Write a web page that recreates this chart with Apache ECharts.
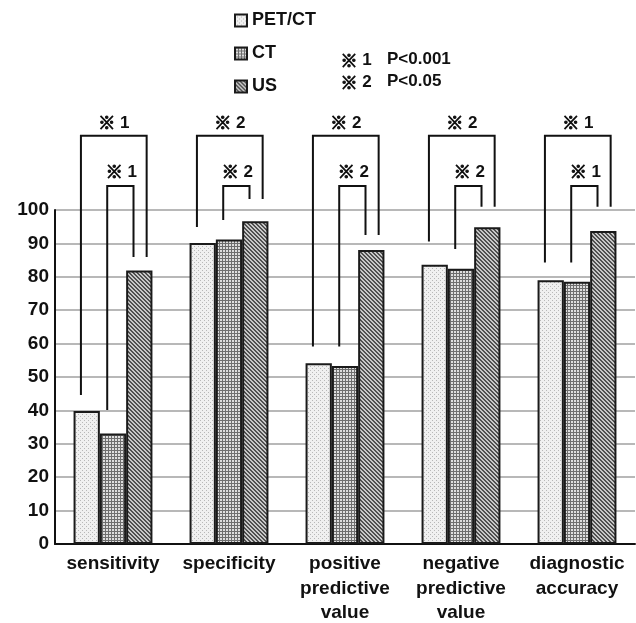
<!DOCTYPE html>
<html><head><meta charset="utf-8">
<script src="https://cdn.jsdelivr.net/npm/echarts@6/dist/echarts.min.js"></script>
<style>html,body{margin:0;padding:0;background:#fff}#c{width:636px;height:623px}</style>
</head><body><div id="c"></div>
<script>
// ---- data ----
const categories = ['sensitivity', 'specificity', 'positive\npredictive\nvalue', 'negative\npredictive\nvalue', 'diagnostic\naccuracy'];
const seriesNames = ['PET/CT', 'CT', 'US'];
const petctValues = [39.8, 90.1, 54.1, 83.6, 79.0];
const ctValues = [33.1, 91.2, 53.3, 82.4, 78.5];
const usValues = [81.9, 96.6, 88.0, 94.8, 93.7];
const yTicks = [0, 10, 20, 30, 40, 50, 60, 70, 80, 90, 100];
// significance brackets (value units)
const outerLabels = ['1', '2', '2', '2', '1'];
const innerLabels = ['1', '2', '2', '2', '1'];
const outerTop = [122.2, 122.2, 122.2, 122.2, 122.2];
const innerTop = [107.2, 107.2, 107.2, 107.2, 107.2];
const outerLeftEnd = [44.6, 94.9, 59.1, 90.6, 84.3];
const innerLeftEnd = [40.1, 97.0, 59.1, 88.3, 84.3];
const rightEnd = [85.9, 103.3, 92.5, 101.0, 101.0];
const noteLines = [['1', 'P<0.001'], ['2', 'P<0.05']];

// ---- patterns ----
function makePattern(size, bg, fg, test) {
  const cv = document.createElement('canvas');
  cv.width = size; cv.height = size;
  const ctx = cv.getContext('2d');
  ctx.fillStyle = bg; ctx.fillRect(0, 0, size, size);
  ctx.fillStyle = fg;
  for (let x = 0; x < size; x++) for (let y = 0; y < size; y++) if (test(x, y)) ctx.fillRect(x, y, 1, 1);
  return { image: cv, repeat: 'repeat' };
}
const patPET = makePattern(4, '#f0f0f0', '#b8b8b8', (x, y) => (x === 0 && y === 0) || (x === 2 && y === 2));
const patCT = makePattern(3, '#dedede', '#6e6e6e', (x, y) => x === 0 || y === 0);
const patUS = makePattern(4, '#c8c8c8', '#505050', (x, y) => ((x - y + 8) % 4) < 2);

const FONT = '"Liberation Sans", Arial, sans-serif';
const CJK = '"Noto Sans CJK JP", "DejaVu Sans", sans-serif';
const GAP = 0.32;

const richMark = {
  m: { fontFamily: CJK, fontWeight: 'bold', fontSize: 17, fill: '#111', stroke: '#111', lineWidth: 1.1 },
  n: { fontFamily: FONT, fontWeight: 'bold', fontSize: 17, fill: '#111' }
};

const chart = echarts.init(document.getElementById('c'), null, { renderer: 'canvas' });

const barStyle = p => ({ color: p, borderColor: '#1a1a1a', borderWidth: 2 });

const bracketData = categories.map((c, i) => [i, outerTop[i], innerTop[i], outerLeftEnd[i], innerLeftEnd[i], rightEnd[i]]);

const graphics = [];
noteLines.forEach((ln, k) => {
  graphics.push({ type: 'text', left: 340, top: 51 + k * 22, style: { text: '{m|※}{n| ' + ln[0] + '}', rich: richMark } });
  graphics.push({ type: 'text', left: 387, top: 51 + k * 22, style: { text: ln[1], font: 'bold 17px ' + FONT, fill: '#111' } });
});

chart.setOption({
  animation: false,
  backgroundColor: '#fff',
  grid: { left: 55, right: 1, top: 210, bottom: 79, containLabel: false, outerBoundsMode: 'none' },
  legend: {
    data: seriesNames, orient: 'vertical', left: 229, top: 6,
    itemWidth: 12, itemHeight: 12, itemGap: 14, icon: 'rect',
    textStyle: { fontFamily: FONT, fontWeight: 'bold', fontSize: 18, color: '#111', lineHeight: 19 }
  },
  graphic: graphics,
  xAxis: {
    type: 'category', data: categories,
    axisTick: { show: false },
    axisLine: { lineStyle: { color: '#111', width: 2 } },
    axisLabel: { interval: 0, margin: 8, fontFamily: FONT, fontWeight: 'bold', fontSize: 19, lineHeight: 24.5, color: '#111' }
  },
  yAxis: {
    type: 'value', min: 0, max: 100, interval: 10,
    axisLine: { show: true, lineStyle: { color: '#111', width: 2 } },
    axisTick: { show: false },
    axisLabel: { margin: 6, fontFamily: FONT, fontWeight: 'bold', fontSize: 19, color: '#111',
      formatter: v => (yTicks.indexOf(v) >= 0 ? String(v) : '') },
    splitLine: { lineStyle: { color: '#a0a0a0', width: 1.5 } }
  },
  series: [
    { name: seriesNames[0], type: 'bar', data: petctValues, barGap: 0, barCategoryGap: (GAP * 100) + '%', itemStyle: barStyle(patPET) },
    { name: seriesNames[1], type: 'bar', data: ctValues, barGap: 0, barCategoryGap: (GAP * 100) + '%', itemStyle: barStyle(patCT) },
    { name: seriesNames[2], type: 'bar', data: usValues, barGap: 0, barCategoryGap: (GAP * 100) + '%', itemStyle: barStyle(patUS) },
    {
      type: 'custom', clip: false, silent: true, z: 10,
      encode: { x: 0, y: 1 },
      data: bracketData,
      renderItem: function (params, api) {
        const i = params.dataIndex;
        const cat = api.value(0);
        const c = api.coord([cat, 0])[0];
        const band = api.size([1, 0])[0];
        const bw = band * (1 - GAP) / 3;
        const y = v => api.coord([cat, v])[1];
        const xOL = c - bw - 0.22 * bw;
        const xIL = c - 0.22 * bw;
        const xIR = c + bw - 0.22 * bw;
        const xOR = c + bw + 0.28 * bw;
        const yOT = y(api.value(1)), yIT = y(api.value(2));
        const ls = { stroke: '#111', lineWidth: 2, fill: null };
        return {
          type: 'group', children: [
            { type: 'polyline', shape: { points: [[xOL, y(api.value(3))], [xOL, yOT], [xOR, yOT], [xOR, y(api.value(5))]] }, style: ls },
            { type: 'polyline', shape: { points: [[xIL, y(api.value(4))], [xIL, yIT], [xIR, yIT], [xIR, y(api.value(5))]] }, style: ls },
            { type: 'text', style: { text: '{m|※}{n| ' + outerLabels[i] + '}', rich: richMark, x: (xOL + xOR) / 2, y: yOT - 13, align: 'center', verticalAlign: 'middle' } },
            { type: 'text', style: { text: '{m|※}{n| ' + innerLabels[i] + '}', rich: richMark, x: (xIL + xIR) / 2 + 1, y: yIT - 14, align: 'center', verticalAlign: 'middle' } }
          ]
        };
      }
    }
  ]
});
</script></body></html>
